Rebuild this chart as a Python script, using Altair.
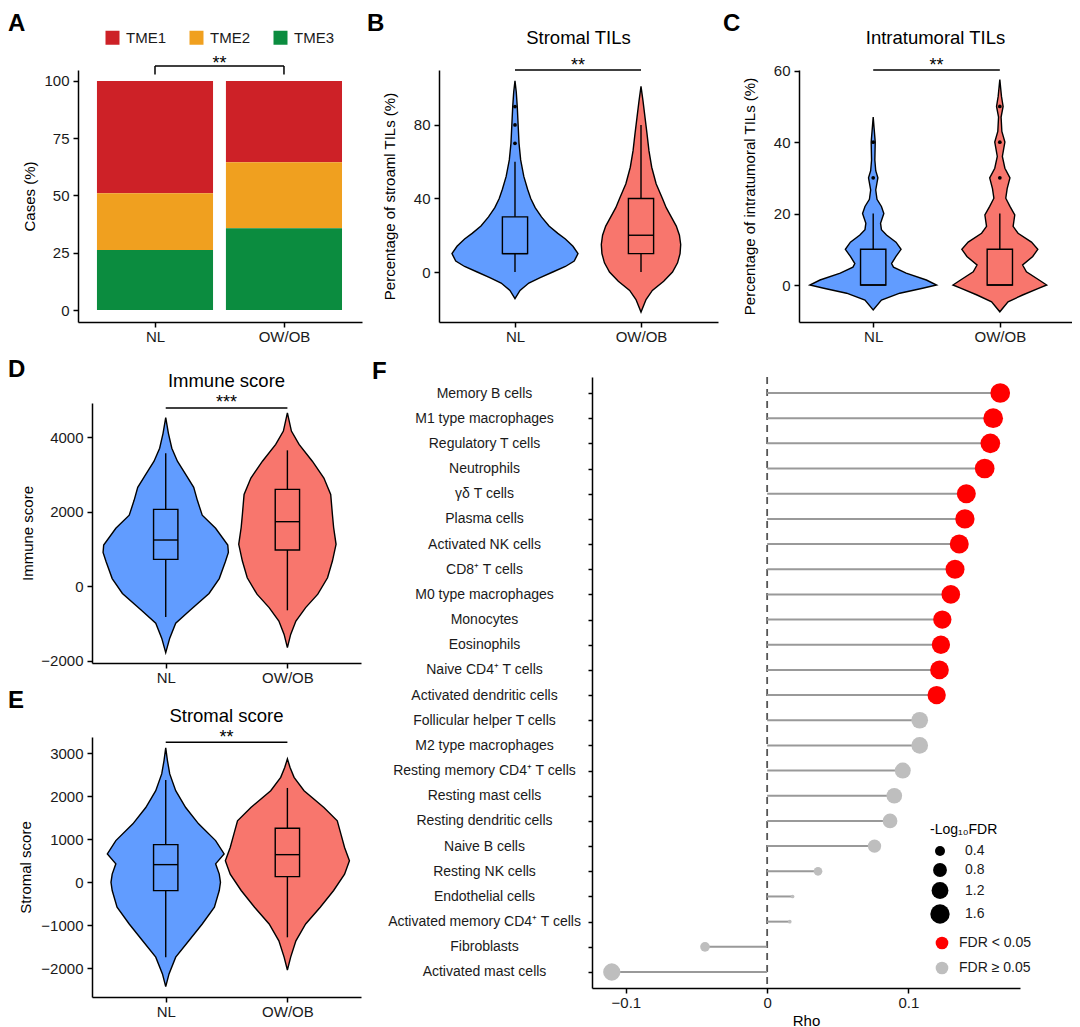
import altair as alt
import pandas as pd

FONT = "Liberation Sans"
GROUPS = ["NL", "OW/OB"]
GROUP_POS = [1, 2]
VIOLIN_COLORS = ["#619CFF", "#F8766D"]
PANEL_LETTERS = ["A", "B", "C", "D", "E", "F"]
HEADINGS = ["Stromal TILs", "Intratumoral TILs", "Immune score", "Stromal score"]

# ---------------- Panel A: TME composition (%) ----------------
TME_TYPES = ["TME1", "TME2", "TME3"]
TME_COLORS = ["#CD2127", "#F0A01F", "#0B8C3F"]
TME_STACK_ORDER = [2, 1, 0]          # TME3 at the bottom
TME_NL = [49.0, 24.8, 26.2]
TME_OB = [35.5, 28.8, 35.7]
SIG_A = "**"

# ---------------- Panel B: Stromal TILs ----------------
B_NL_V = [-14.5, -10, -6, -3, 0, 3, 6, 10, 14, 18, 21, 25, 30, 35, 40, 45, 52, 61, 70, 80, 90, 98, 104]
B_NL_W = [0, 0.04, 0.11, 0.2, 0.30, 0.40, 0.47, 0.50, 0.46, 0.40, 0.34, 0.27, 0.21, 0.16, 0.125, 0.1, 0.07,
          0.045, 0.032, 0.025, 0.018, 0.01, 0]
B_OB_V = [-21.8, -15, -10, -5, 0, 5, 10, 15, 20, 25, 30, 35, 40, 48, 57, 66, 75, 84, 93, 101]
B_OB_W = [0, 0.04, 0.09, 0.18, 0.25, 0.29, 0.31, 0.315, 0.305, 0.28, 0.24, 0.2, 0.17, 0.12, 0.085, 0.063,
          0.048, 0.032, 0.016, 0]
B_BOX = {"NL": [0, 10, 10, 30, 60], "OW/OB": [0, 10, 20, 40, 80]}   # lo, q1, median, q3, hi
B_OUT = {"NL": [70, 80, 90], "OW/OB": []}
SIG_B = "**"

# ---------------- Panel C: Intratumoral TILs ----------------
C_NL_V = [-7, -4.2, -2.3, -0.9, 0, 1.4, 3.3, 5, 6, 8, 10, 12, 14, 15.5, 17.3, 20, 22, 24, 26.6, 30, 32, 35,
          40, 43.5, 47]
C_NL_W = [0, 0.065, 0.21, 0.39, 0.5, 0.42, 0.26, 0.16, 0.145, 0.18, 0.22, 0.18, 0.105, 0.065, 0.058, 0.084,
          0.065, 0.03, 0.02, 0.037, 0.02, 0.013, 0.016, 0.008, 0]
C_OB_V = [-7.5, -4.7, -2.8, -0.9, 0, 1.4, 3.7, 5.6, 8, 10, 12, 14.5, 16.4, 19.6, 22, 24.3, 27, 30, 32.7, 36,
          40, 43, 47, 50, 52.8, 57.5]
C_OB_W = [0, 0.065, 0.18, 0.31, 0.37, 0.31, 0.21, 0.18, 0.26, 0.30, 0.25, 0.144, 0.105, 0.118, 0.08, 0.047,
          0.058, 0.08, 0.04, 0.02, 0.04, 0.016, 0.01, 0.026, 0.013, 0]
C_BOX = {"NL": [0, 0, 0, 10, 20], "OW/OB": [0, 0, 0, 10, 20]}
C_OUT = {"NL": [30, 40], "OW/OB": [30, 40, 50]}
SIG_C = "**"

# ---------------- Panel D: Immune score ----------------
D_NL_V = [-1790, -1400, -1000, -650, -200, 200, 650, 900, 1100, 1550, 1900, 2300, 2650, 3000, 3350, 3700,
          4100, 4520]
D_NL_W = [0, 0.033, 0.082, 0.2, 0.356, 0.44, 0.49, 0.515, 0.51, 0.41, 0.30, 0.26, 0.23, 0.164, 0.096, 0.05,
          0.022, 0]
D_OB_V = [-1655, -1300, -940, -580, -220, 220, 670, 1120, 1570, 1920, 2460, 2900, 3350, 3800, 4160, 4650]
D_OB_W = [0, 0.027, 0.07, 0.15, 0.25, 0.33, 0.37, 0.40, 0.38, 0.37, 0.356, 0.30, 0.205, 0.096, 0.033, 0]
D_BOX = {"NL": [-830, 716, 1235, 2058, 3562], "OW/OB": [-653, 966, 1727, 2595, 3642]}
D_OUT = {"NL": [], "OW/OB": []}
SIG_D = "***"

# ---------------- Panel E: Stromal score ----------------
E_NL_V = [-2426, -2130, -1740, -1360, -970, -580, -190, 0, 190, 430, 660, 970, 1360, 1740, 2130, 2520, 2830,
          3124]
E_NL_W = [0, 0.027, 0.082, 0.19, 0.30, 0.40, 0.44, 0.45, 0.44, 0.41, 0.48, 0.41, 0.27, 0.164, 0.082, 0.033,
          0.014, 0]
E_OB_V = [-2040, -1740, -1360, -970, -580, -190, 190, 500, 810, 1120, 1430, 1740, 2130, 2440, 2670, 2870]
E_OB_W = [0, 0.027, 0.07, 0.15, 0.27, 0.38, 0.47, 0.51, 0.47, 0.44, 0.41, 0.30, 0.137, 0.055, 0.022, 0]
E_BOX = {"NL": [-1744, -194, 411, 876, 2380], "OW/OB": [-1279, 132, 643, 1256, 2194]}
E_OUT = {"NL": [], "OW/OB": []}
SIG_E = "**"

# ---------------- Panel F: correlation lollipop ----------------
CELLS = ["Memory B cells", "M1 type macrophages", "Regulatory T cells", "Neutrophils", "γδ T cells",
         "Plasma cells", "Activated NK cells", "CD8⁺ T cells", "M0 type macrophages", "Monocytes",
         "Eosinophils", "Naive CD4⁺ T cells", "Activated dendritic cells", "Follicular helper T cells",
         "M2 type macrophages", "Resting memory CD4⁺ T cells", "Resting mast cells", "Resting dendritic cells",
         "Naive B cells", "Resting NK cells", "Endothelial cells", "Activated memory CD4⁺ T cells",
         "Fibroblasts", "Activated mast cells"]
RHO = [0.165, 0.160, 0.158, 0.154, 0.141, 0.140, 0.136, 0.133, 0.130, 0.124, 0.123, 0.122, 0.120, 0.108,
       0.108, 0.096, 0.090, 0.087, 0.076, 0.036, 0.018, 0.016, -0.044, -0.110]
NLOG_FDR = [1.66, 1.66, 1.66, 1.66, 1.54, 1.59, 1.54, 1.54, 1.49, 1.43, 1.43, 1.49, 1.43, 1.18, 1.18, 1.08,
            1.04, 0.91, 0.74, 0.29, 0.02, 0.02, 0.37, 1.27]
FDR_CLASSES = ["FDR < 0.05", "FDR ≥ 0.05"]
FDR_CLASS = [FDR_CLASSES[0]] * 13 + [FDR_CLASSES[1]] * 11
FDR_COLORS = ["#FF0000", "#BEBEBE"]
SIZE_LEGEND_VALUES = [0.4, 0.8, 1.2, 1.6]

LINE_W = 1.4
STAR_SIZE = 18
GROUP_LABEL_EXPR = f"datum.value == {GROUP_POS[0]} ? '{GROUPS[0]}' : '{GROUPS[1]}'"


def letter_layer(letter, dx, dy):
    return alt.Chart(pd.DataFrame({"t": [letter]})).mark_text(
        align="left", baseline="top", fontSize=24, fontWeight="bold", color="black", font=FONT
    ).encode(x=alt.value(dx), y=alt.value(dy), text="t:N")


def heading_layer(text, cx, dy):
    return alt.Chart(pd.DataFrame({"t": [text]})).mark_text(
        align="center", baseline="alphabetic", fontSize=18.5, color="black", font=FONT
    ).encode(x=alt.value(cx), y=alt.value(dy), text="t:N")


def x_axis():
    return alt.Axis(values=GROUP_POS, labelExpr=GROUP_LABEL_EXPR, title=None, labelPadding=2,
                    labelFontSize=15)


def violin_panel(letter, letter_xy, title, title_dy, ytitle, title_pad, profiles, boxes, outliers,
                 ydom, xdom, yticks, yfmt, bracket_y, stars, star_dy, width, height, top_pad=0):
    vrows = []
    for gi, g in enumerate(GROUPS):
        vals, wids = profiles[gi]
        for v, ww in zip(vals, wids):
            vrows.append({"grp": g, "pos": GROUP_POS[gi], "v": v, "w": ww})
    vdf = pd.DataFrame(vrows)
    brows = []
    for gi, g in enumerate(GROUPS):
        lo, q1, med, q3, hi = boxes[g]
        brows.append({"grp": g, "pos": GROUP_POS[gi], "lo": lo, "q1": q1, "med": med, "q3": q3, "hi": hi})
    bdf = pd.DataFrame(brows)
    orows = []
    for gi, g in enumerate(GROUPS):
        for o in outliers[g]:
            orows.append({"grp": g, "pos": GROUP_POS[gi], "val": o})

    total_h = height + top_pad
    yscale = alt.Scale(domain=ydom, nice=False, zero=False, range=[total_h, top_pad])
    xscale = alt.Scale(domain=xdom, nice=False, zero=False)
    color = alt.Color("grp:N", scale=alt.Scale(domain=GROUPS, range=VIOLIN_COLORS), legend=None)
    axis_kw = dict(values=yticks, title=ytitle, titlePadding=title_pad, labelPadding=4, labelFontSize=15)
    if yfmt:
        axis_kw["format"] = yfmt
    yaxis = alt.Axis(**axis_kw)

    violin = alt.Chart(vdf).transform_calculate(
        xa="datum.pos - datum.w", xb="datum.pos + datum.w"
    ).mark_area(orient="horizontal", stroke="black", strokeWidth=LINE_W, fillOpacity=1).encode(
        y=alt.Y("v:Q", scale=yscale, axis=yaxis),
        x=alt.X("xa:Q", scale=xscale, axis=x_axis(), stack=None),
        x2="xb:Q",
        color=color,
    )
    whisker = alt.Chart(bdf).mark_rule(color="black", strokeWidth=LINE_W).encode(
        x="pos:Q", y="lo:Q", y2="hi:Q")
    box = alt.Chart(bdf).transform_calculate(
        bl="datum.pos - 0.1", br="datum.pos + 0.1"
    ).mark_bar(stroke="black", strokeWidth=LINE_W, fillOpacity=1).encode(
        x="bl:Q", x2="br:Q", y="q1:Q", y2="q3:Q", color=color)
    median = alt.Chart(bdf).transform_calculate(
        bl="datum.pos - 0.1", br="datum.pos + 0.1"
    ).mark_rule(color="black", strokeWidth=LINE_W).encode(x="bl:Q", x2="br:Q", y="med:Q")
    brdf = pd.DataFrame({"x1": [GROUP_POS[0]], "x2": [GROUP_POS[1]], "y": [bracket_y], "s": [stars]})
    bracket = alt.Chart(brdf).mark_rule(color="black", strokeWidth=1.5).encode(
        x="x1:Q", x2="x2:Q", y="y:Q")
    star_txt = alt.Chart(brdf).transform_calculate(xm="(datum.x1 + datum.x2) / 2").mark_text(
        fontSize=STAR_SIZE, baseline="alphabetic", dy=star_dy, color="black", font=FONT
    ).encode(x="xm:Q", y="y:Q", text="s:N")
    layers = [violin, whisker, box, median]
    if orows:
        odf = pd.DataFrame(orows)
        layers.append(alt.Chart(odf).mark_circle(color="black", size=14, opacity=1).encode(
            x="pos:Q", y="val:Q"))
    layers += [bracket, star_txt, heading_layer(title, width / 2, top_pad + title_dy),
               letter_layer(letter, letter_xy[0], top_pad + letter_xy[1])]
    return alt.layer(*layers).properties(width=width, height=total_h)


def indep(c):
    return c.resolve_scale(color="independent", size="independent").resolve_legend(
        color="independent", size="independent")


# ---------- Panel A (plot area starts 14 px left of its origin) ----------
A_LEFT = 14
arows = []
for gi, g in enumerate(GROUPS):
    vals = TME_NL if gi == 0 else TME_OB
    for ti, t in enumerate(TME_TYPES):
        arows.append({"grp": g, "pos": GROUP_POS[gi], "tme": t, "pct": vals[ti], "order": TME_STACK_ORDER[ti]})
adf = pd.DataFrame(arows)
a_x = alt.Scale(domain=[0.403, 2.605], nice=False, zero=False, range=[-A_LEFT, 284 - A_LEFT])
a_y = alt.Scale(domain=[-5.24, 104.8], nice=False, zero=False)
bars = alt.Chart(adf).transform_stack(
    stack="pct", groupby=["grp"], as_=["y0", "y1"], sort=[alt.SortField("order", order="ascending")]
).transform_calculate(xl="datum.pos - 0.45", xr="datum.pos + 0.45").mark_bar().encode(
    x=alt.X("xl:Q", scale=a_x, axis=x_axis(), stack=None),
    x2="xr:Q",
    y=alt.Y("y0:Q", scale=a_y, axis=alt.Axis(values=[0, 25, 50, 75, 100], title="Cases (%)", titlePadding=6,
                                               labelPadding=4, labelFontSize=15, offset=A_LEFT)),
    y2="y1:Q",
    color=alt.Color("tme:N", scale=alt.Scale(domain=TME_TYPES, range=TME_COLORS),
                    legend=alt.Legend(orient="none", legendX=27 - A_LEFT, legendY=-40, direction="horizontal",
                                      title=None, symbolType="square", symbolSize=196, symbolStrokeWidth=0,
                                      symbolOpacity=1, labelFontSize=15, columnPadding=22, labelOffset=6)),
)
a_br = pd.DataFrame({"x1": [GROUP_POS[0]], "x2": [GROUP_POS[1]], "y": [106.5], "s": [SIG_A]})
a_legs = pd.DataFrame({"pos": GROUP_POS, "lo": [102.8, 102.8], "hi": [106.5, 106.5]})
a_bracket = alt.Chart(a_br).mark_rule(color="black", strokeWidth=1.5).encode(x="x1:Q", x2="x2:Q", y="y:Q")
a_legrule = alt.Chart(a_legs).mark_rule(color="black", strokeWidth=1.5).encode(x="pos:Q", y="lo:Q", y2="hi:Q")
a_star = alt.Chart(a_br).transform_calculate(xm="(datum.x1 + datum.x2) / 2").mark_text(
    fontSize=STAR_SIZE, baseline="alphabetic", dy=3, color="black", font=FONT).encode(
    x="xm:Q", y="y:Q", text="s:N")
TOP_LETTER_DY = -58
chartA = alt.layer(bars, a_bracket, a_legrule, a_star,
                   letter_layer(PANEL_LETTERS[0], -84, TOP_LETTER_DY)).properties(width=284 - A_LEFT, height=252)

chartB = violin_panel(PANEL_LETTERS[1], (-72, TOP_LETTER_DY), HEADINGS[0], -26,
                      "Percentage of stroaml TILs (%)", 16,
                      [(B_NL_V, B_NL_W), (B_OB_V, B_OB_W)], B_BOX, B_OUT,
                      [-27.2, 109.9], [0.397, 2.611], [0, 40, 80], None, 109.9, SIG_B, 1, 279, 252)
chartC = violin_panel(PANEL_LETTERS[2], (-76, TOP_LETTER_DY), HEADINGS[1], -26,
                      "Percentage of intratumoral TILs (%)", 16,
                      [(C_NL_V, C_NL_W), (C_OB_V, C_OB_W)], C_BOX, C_OUT,
                      [-10.36, 60.2], [0.414, 2.57], [0, 20, 40, 60], None, 60.2, SIG_C, 1, 273, 252)
D_TOP = 26
chartD = violin_panel(PANEL_LETTERS[3], (-84, -45), HEADINGS[2], -16, "Immune score", 5,
                      [(D_NL_V, D_NL_W), (D_OB_V, D_OB_W)], D_BOX, D_OUT,
                      [-2067, 4913], [0.394, 2.605], [-2000, 0, 2000, 4000], "d", 4779, SIG_D, 0, 269, 260,
                      top_pad=D_TOP)
chartE = violin_panel(PANEL_LETTERS[4], (-84, -48), HEADINGS[3], -15, "Stromal score", 7,
                      [(E_NL_V, E_NL_W), (E_OB_V, E_OB_W)], E_BOX, E_OUT,
                      [-2667, 3379], [0.394, 2.605], [-2000, -1000, 0, 1000, 2000, 3000], "d", 3256, SIG_E,
                      1, 269, 260)

# ---------- Panel F ----------
fdf = pd.DataFrame({"cell": CELLS, "rho": RHO, "nlog": NLOG_FDR, "cls": FDR_CLASS})
f_x = alt.Scale(domain=[-0.124, 0.179], nice=False, zero=False)
f_y = alt.Scale(type="point", domain=CELLS, padding=0.636)
zero_line = alt.Chart(pd.DataFrame({"z": [0]})).mark_rule(
    color="#555555", strokeWidth=1.8, strokeDash=[7, 5]).encode(
    x=alt.X("z:Q", scale=f_x, axis=alt.Axis(values=[-0.1, 0, 0.1], title="Rho", titlePadding=3, labelPadding=2,
                                            labelFontSize=15, titleFontSize=15,
                                            labelExpr="datum.value == 0 ? '0' : format(datum.value, '.1f')")))
segs = alt.Chart(fdf).transform_calculate(zero="0").mark_rule(color="#999999", strokeWidth=2).encode(
    y=alt.Y("cell:N", scale=f_y, sort=CELLS,
            axis=alt.Axis(title=None, labelAlign="center", labelPadding=104, labelFontSize=14, labelLimit=400,
                          tickSize=4)),
    x="zero:Q", x2="rho:Q")
dots = alt.Chart(fdf).mark_circle(opacity=1).encode(
    y=alt.Y("cell:N", sort=CELLS),
    x="rho:Q",
    size=alt.Size("nlog:Q", scale=alt.Scale(domain=[0, 2], range=[9, 465]),
                  legend=alt.Legend(title="-Log₁₀FDR", orient="none", legendX=338, legendY=446,
                                    values=SIZE_LEGEND_VALUES, symbolFillColor="black",
                                    symbolStrokeColor="black", symbolStrokeWidth=0, symbolOpacity=1,
                                    labelFontSize=14, titleFontSize=14, titleFontWeight="normal",
                                    titleColor="black", rowPadding=5, labelOffset=15, titlePadding=7)),
    color=alt.Color("cls:N", scale=alt.Scale(domain=FDR_CLASSES, range=FDR_COLORS),
                    legend=alt.Legend(title=None, orient="none", legendX=343, legendY=559, symbolSize=161,
                                      symbolType="circle", symbolStrokeWidth=0, symbolOpacity=1,
                                      labelFontSize=14, rowPadding=11, labelOffset=10)),
)
chartF = alt.layer(zero_line, segs, dots, letter_layer(PANEL_LETTERS[5], -220, -17)).properties(
    width=428, height=611)

top = indep(alt.hconcat(chartA, indep(alt.hconcat(chartB, chartC, spacing=5)), spacing=-9))
left_col = indep(alt.vconcat(chartD, chartE, spacing=4))
bottom = indep(alt.hconcat(left_col, chartF, spacing=11))
chart = indep(alt.vconcat(top, bottom, spacing=14)).properties(
    padding={"left": 0, "top": 4, "right": 0, "bottom": 0}
).configure_view(stroke=None).configure_axis(
    domainColor="black", domainWidth=1.5, tickColor="black", tickWidth=1.5, tickSize=5,
    labelColor="#1a1a1a", labelFont=FONT, titleFont=FONT, titleFontSize=15, titleFontWeight="normal",
    titleColor="black", grid=False
).configure_legend(labelFont=FONT, titleFont=FONT, labelColor="#1a1a1a").configure_text(font=FONT)

chart.save("out.html", embed_options={"renderer": "svg", "actions": False})
